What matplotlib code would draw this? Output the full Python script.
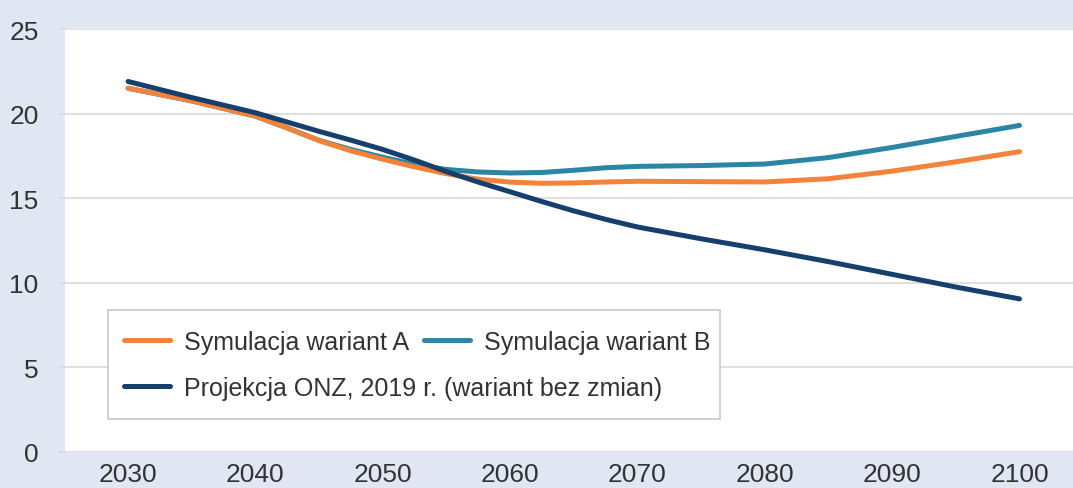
"""
Fertility-style projection chart: two simulation variants vs UN projection.
"""

import matplotlib
matplotlib.use("Agg")
import matplotlib.pyplot as plt
from matplotlib.patches import Rectangle

# Data (denser around the bends)
years = [2030, 2035, 2040, 2042.5, 2045, 2047.5, 2050, 2052.5, 2055, 2057.5,
         2060, 2062.5, 2065, 2067.5, 2070, 2075, 2080, 2085, 2090, 2095, 2100]
wariant_a = [21.5, 20.75, 19.85, 19.15, 18.4, 17.8, 17.3, 16.85, 16.45, 16.12,
             15.95, 15.88, 15.9, 15.96, 16.0, 15.98, 15.96, 16.15, 16.6,
             17.15, 17.75]
wariant_b = [21.5, 20.75, 19.85, 19.15, 18.42, 17.88, 17.42, 17.0, 16.7, 16.55,
             16.49, 16.52, 16.65, 16.8, 16.88, 16.93, 17.02, 17.4, 18.0,
             18.65, 19.3]
onz_2019 = [21.9, 20.95, 20.05, 19.5, 18.95, 18.43, 17.88, 17.25, 16.57, 15.95,
            15.38, 14.8, 14.25, 13.75, 13.3, 12.6, 11.95, 11.25, 10.5,
            9.75, 9.05]

x_ticks = [2030, 2040, 2050, 2060, 2070, 2080, 2090, 2100]
y_ticks = [0, 5, 10, 15, 20, 25]

labels = ["Symulacja wariant A", "Symulacja wariant B",
          "Projekcja ONZ, 2019 r. (wariant bez zmian)"]

BG = "#e0e7f3"
TEXT = "#333333"
GRID = "#d9d9d9"
ORANGE = "#f5823a"
TEAL = "#2a86a4"
NAVY = "#163f6e"

plt.rcParams["font.family"] = ["Liberation Sans", "DejaVu Sans"]


def main():
    fig = plt.figure(figsize=(10.73, 4.89), dpi=100, facecolor=BG)
    ax = fig.add_axes([65 / 1073, 36 / 489, 1008 / 1073, 423 / 489])
    ax.set_facecolor("white")

    line_kw = dict(lw=3.6, solid_capstyle="round", solid_joinstyle="round")
    la, = ax.plot(years, wariant_a, color=ORANGE, zorder=3, **line_kw)
    lb, = ax.plot(years, wariant_b, color=TEAL, zorder=2, **line_kw)
    ln, = ax.plot(years, onz_2019, color=NAVY, zorder=4, **line_kw)

    ax.set_xlim(2025.05, 2104.2)
    ax.set_ylim(0, 25)
    ax.set_xticks(x_ticks)
    ax.set_yticks(y_ticks)
    ax.grid(axis="y", color=GRID, lw=1.2)
    ax.set_axisbelow(True)
    for s in ax.spines.values():
        s.set_visible(False)

    ax.tick_params(axis="y", length=4, width=1.2, color=GRID, pad=15,
                   labelsize=19, labelcolor=TEXT)
    ax.tick_params(axis="x", length=0, pad=7, labelsize=19, labelcolor=TEXT)

    # legend: frame drawn separately, rows laid out by hand
    frame = Rectangle((0.0427, 0.078), 0.607, 0.258, transform=ax.transAxes,
                      facecolor="white", edgecolor="#c8c8c8", lw=1.2, zorder=5)
    ax.add_patch(frame)
    leg_kw = dict(frameon=False, fontsize=18, borderpad=0, borderaxespad=0,
                  handlelength=1.85, handletextpad=0.55, columnspacing=0.6,
                  loc="center left", labelcolor=TEXT)
    leg1 = ax.legend([la, lb], labels[:2], ncol=2,
                     bbox_to_anchor=(0.0585, 0.26), **leg_kw)
    leg1.set_zorder(6)
    ax.add_artist(leg1)
    leg2 = ax.legend([ln], labels[2:], bbox_to_anchor=(0.0585, 0.152),
                     **leg_kw)
    leg2.set_zorder(6)

    fig.savefig("out.png", dpi=100, facecolor=BG)


if __name__ == "__main__":
    main()
